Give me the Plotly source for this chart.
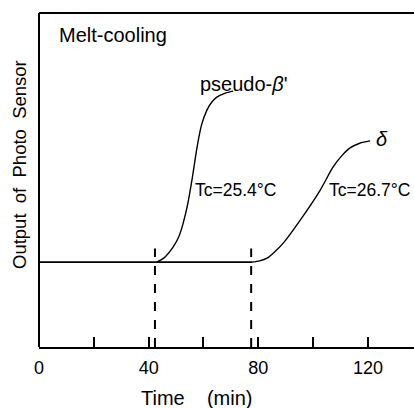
import plotly.graph_objects as go

# Data
base_x = [0, 20, 40, 60, 77.7]
base_y = [25.4, 25.4, 25.4, 25.5, 25.4]

pb_x = [42.9, 45.5, 48.9, 51.0, 52.6, 54.3, 55.8, 57.7, 59.3, 61.3, 63.2, 65.0, 68.0, 70.8]
pb_y = [25.4, 26.6, 29.9, 33.0, 37.1, 43.0, 50.0, 60.0, 66.5, 71.0, 73.5, 74.9, 76.0, 76.6]

d_x = [77.7, 80.5, 83.2, 86.0, 89.1, 95.3, 102.6, 107.3, 110.5, 113.5, 117.0, 120.8]
d_y = [25.4, 25.8, 26.6, 28.5, 31.1, 38.0, 47.0, 53.9, 57.3, 59.6, 61.0, 61.7]

tc_lines = [42.3, 77.4]
tick_vals = [0, 20, 40, 60, 80, 100, 120]
tick_text = ["0", "", "40", "", "80", "", "120"]

FONT = "Liberation Sans"
fig = go.Figure()
line_style = dict(color="black", width=1.4, shape="spline", smoothing=0.8)
fig.add_trace(go.Scatter(x=base_x, y=base_y, mode="lines", line=dict(color="black", width=1.6)))
fig.add_trace(go.Scatter(x=pb_x, y=pb_y, mode="lines", line=line_style))
fig.add_trace(go.Scatter(x=d_x, y=d_y, mode="lines", line=line_style))
for xv in tc_lines:
    fig.add_trace(go.Scatter(x=[xv, xv], y=[0, 29.5], mode="lines",
                             line=dict(color="black", width=2, dash="dash")))

ann = [
    dict(x=6.6, y=93.5, text="Melt-cooling", size=20),
    dict(x=58.0, y=78.6, text="pseudo-<i>β</i>'", size=20),
    dict(x=56.2, y=47.0, text="Tc=25.4°C", size=17.5),
    dict(x=105.0, y=47.0, text="Tc=26.7°C", size=17.5),
    dict(x=122.3, y=62.3, text="<i>δ</i>", size=20),
]
for a in ann:
    fig.add_annotation(x=a["x"], y=a["y"], text=a["text"], xanchor="left",
                       yanchor="middle", showarrow=False,
                       font=dict(family=FONT, size=a["size"], color="black"))

# axis titles placed as in the reference (not centred on the plot)
fig.add_annotation(x=(19 - 39) / 375, xref="paper", y=(347 - 165) / 334, yref="paper",
                   text="Output  of  Photo  Sensor", textangle=-90, showarrow=False,
                   xanchor="center", yanchor="middle",
                   font=dict(family=FONT, size=18.5, color="black"))
fig.add_annotation(x=(196 - 39) / 375, xref="paper", y=-(398 - 347) / 334, yref="paper",
                   text="Time    (min)", showarrow=False,
                   xanchor="center", yanchor="middle",
                   font=dict(family=FONT, size=20, color="black"))

# frame: top and left lines
fig.add_shape(type="line", xref="paper", yref="paper", x0=0, x1=1, y0=1, y1=1,
              line=dict(color="black", width=2))
fig.add_shape(type="line", xref="paper", yref="paper", x0=0, x1=0, y0=0, y1=1,
              line=dict(color="black", width=2))

fig.update_layout(
    width=414, height=408,
    margin=dict(l=39, r=0, t=13, b=61),
    plot_bgcolor="white", paper_bgcolor="white",
    showlegend=False,
    font=dict(family=FONT, size=18, color="black"),
    xaxis=dict(range=[0, 136.8], tickvals=tick_vals, ticktext=tick_text,
               ticks="inside", ticklen=10, tickwidth=2, tickcolor="black",
               ticklabelstandoff=3, tickfont=dict(size=18),
               showline=True, linecolor="black", linewidth=2, mirror=False,
               showgrid=False, zeroline=False),
    yaxis=dict(range=[0, 100], showticklabels=False, ticks="",
               showline=False, showgrid=False, zeroline=False),
)
fig.write_html("out.html", config={"displayModeBar": False},
               post_script="document.body.style.margin='0';"
                           "document.body.style.overflow='hidden';"
                           "document.documentElement.style.overflow='hidden';")
